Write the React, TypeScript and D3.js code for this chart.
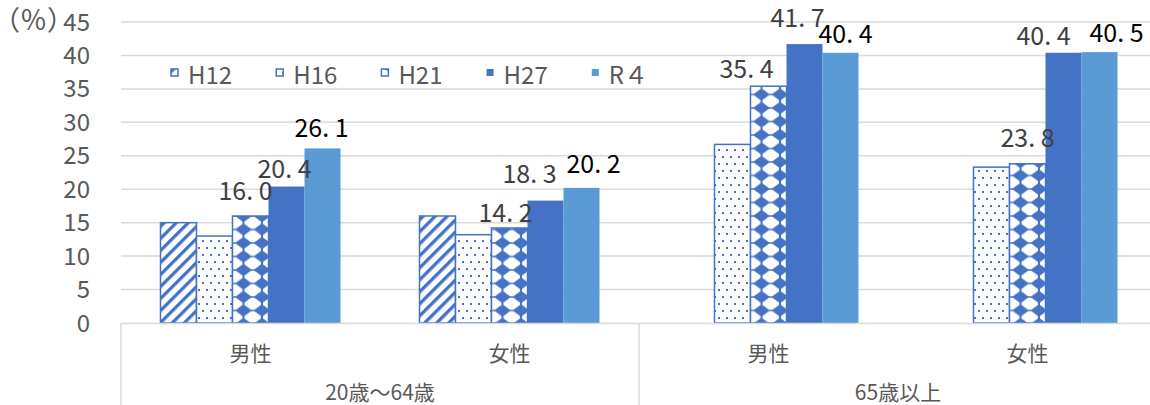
import React from "react";
import * as d3 from "d3";

const categories = ["男性", "女性", "男性", "女性"];
const ageGroups = ["20歳～64歳", "65歳以上"];
const seriesNames = ["H12", "H16", "H21", "H27", "R４"];
const h12: (number | null)[] = [15.0, 16.0, null, null];
const h16: (number | null)[] = [13.0, 13.2, 26.7, 23.3];
const h21: (number | null)[] = [16.0, 14.2, 35.4, 23.8];
const h27: (number | null)[] = [20.4, 18.3, 41.7, 40.4];
const r4: (number | null)[] = [26.1, 20.2, 40.4, 40.5];
const yTicks = [0, 5, 10, 15, 20, 25, 30, 35, 40, 45];
const labeledSeries = [2, 3, 4];

// label nudges [dx, gap above bar] per category, for labeled series H21, H27, R4
const labelNudges = [
  [[-5, 16], [-2, 9], [-1, 11]],
  [[-4, 6], [-16, 18], [12, 15]],
  [[-22, 8], [-7, 17], [5, 10]],
  [[0, 17], [-20, 8], [17, 10]],
];

const BLUE = "#4472C4";
const LIGHT = "#5B9BD5";
const FONT = "'Noto Sans CJK JP', 'Noto Sans', sans-serif";

const W = 1150;
const H = 405;
const plotLeft = 121;
const plotRight = 1157;
const y0 = 323;
const yTop = 22;

const fills = ["url(#pStripe)", "url(#pDots)", "url(#pDiamond)", BLUE, LIGHT];
const patterned = [true, true, true, false, false];

export default function App() {
  const series = [h12, h16, h21, h27, r4];
  const x = d3
    .scaleBand<number>()
    .domain(d3.range(categories.length))
    .range([plotLeft, plotRight])
    .paddingInner(0)
    .paddingOuter(0);
  const xi = d3
    .scaleBand<number>()
    .domain(d3.range(seriesNames.length))
    .range([0, x.bandwidth()])
    .paddingInner(0)
    .paddingOuter(1.097);
  const y = d3.scaleLinear().domain([0, 45]).range([y0, yTop]);

  const groupX = d3
    .scaleBand<number>()
    .domain(d3.range(ageGroups.length))
    .range([plotLeft, plotRight]);

  const fmt = (v: number) => v.toFixed(1).replace(".", ". ");

  return (
    <svg
      width={W}
      height={H}
      style={{ position: "absolute", left: 0, top: 0, background: "#fff" }}
      fontFamily={FONT}
    >
      <defs>
        <pattern id="pStripe" width="8.5" height="8.5" patternUnits="userSpaceOnUse" patternTransform="rotate(45)">
          <rect width="8.5" height="8.5" fill="#fff" />
          <rect x="0" y="0" width="3.3" height="8.5" fill={BLUE} />
        </pattern>
        <pattern id="pDots" width="8" height="14" patternUnits="userSpaceOnUse">
          <rect width="8" height="14" fill="#fff" />
          <rect x="2" y="2" width="2" height="2" fill={BLUE} />
          <rect x="6" y="9" width="2" height="2" fill={BLUE} />
        </pattern>
        <pattern id="pDiamond" width="18.5" height="13.5" patternUnits="userSpaceOnUse" x="3">
          <rect width="18.5" height="13.5" fill={BLUE} />
          <polygon
            points="7.5,0.8 11,0.8 17.5,5.5 17.5,8 11,12.7 7.5,12.7 1,8 1,5.5"
            fill="#fff"
          />
        </pattern>
      </defs>

      {/* gridlines */}
      {yTicks
        .filter((t) => t > 0)
        .map((t) => (
          <line key={t} x1={plotLeft} x2={plotRight} y1={y(t)} y2={y(t)} stroke="#d9d9d9" strokeWidth={1.5} />
        ))}

      {/* y tick labels */}
      {yTicks.map((t) => (
        <text key={t} x={90} y={y(t) + 8.5} textAnchor="end" fontSize={24} fill="#595959">
          {t}
        </text>
      ))}
      <text x={33.5} y={30} textAnchor="middle" fontSize={27} fill="#595959">
        （％）
      </text>

      {/* bars */}
      {series.map((vals, si) =>
        vals.map((v, ci) =>
          v == null ? null : (
            <rect
              key={`${si}-${ci}`}
              x={(x(ci) as number) + (xi(si) as number)}
              y={y(v)}
              width={xi.bandwidth()}
              height={y0 - y(v)}
              fill={fills[si]}
              stroke={patterned[si] ? BLUE : "none"}
              strokeWidth={patterned[si] ? 1.5 : 0}
            />
          )
        )
      )}

      {/* data labels */}
      {labeledSeries.map((si, li) =>
        series[si].map((v, ci) => {
          if (v == null) return null;
          const [dx, gap] = labelNudges[ci][li];
          const cx = (x(ci) as number) + (xi(si) as number) + xi.bandwidth() / 2 + dx;
          return (
            <text
              key={`l-${si}-${ci}`}
              x={cx}
              y={y(v) - gap}
              textAnchor="middle"
              fontSize={25}
              fill={si === 4 ? "#000" : "#404040"}
            >
              {fmt(v)}
            </text>
          );
        })
      )}

      {/* category axis */}
      <line x1={plotLeft} x2={plotRight} y1={y0 + 0.5} y2={y0 + 0.5} stroke="#d9d9d9" strokeWidth={1.5} />
      {d3.range(ageGroups.length + 1).map((g) => {
        const gx = g < ageGroups.length ? (groupX(g) as number) : plotRight;
        return <line key={g} x1={gx} x2={gx} y1={y0} y2={H} stroke="#d9d9d9" strokeWidth={1.5} />;
      })}
      {categories.map((c, ci) => (
        <text
          key={`c-${ci}`}
          x={(x(ci) as number) + x.bandwidth() / 2}
          y={352}
          textAnchor="middle"
          dominantBaseline="central"
          fontSize={21}
          fill="#595959"
        >
          {c}
        </text>
      ))}
      {ageGroups.map((g, gi) => (
        <text
          key={`g-${gi}`}
          x={(groupX(gi) as number) + groupX.bandwidth() / 2}
          y={391}
          textAnchor="middle"
          dominantBaseline="central"
          fontSize={21}
          fill="#595959"
        >
          {g}
        </text>
      ))}

      {/* legend */}
      {seriesNames.map((n, si) => {
        const lx = 171 + si * 105.2;
        return (
          <g key={`lg-${si}`}>
            <rect
              x={lx}
              y={69}
              width={7}
              height={7}
              fill={fills[si]}
              stroke={patterned[si] ? BLUE : "none"}
              strokeWidth={patterned[si] ? 1.5 : 0}
            />
            <text x={lx + 17} y={84} fontSize={24} fill="#595959">
              {n}
            </text>
          </g>
        );
      })}
    </svg>
  );
}
